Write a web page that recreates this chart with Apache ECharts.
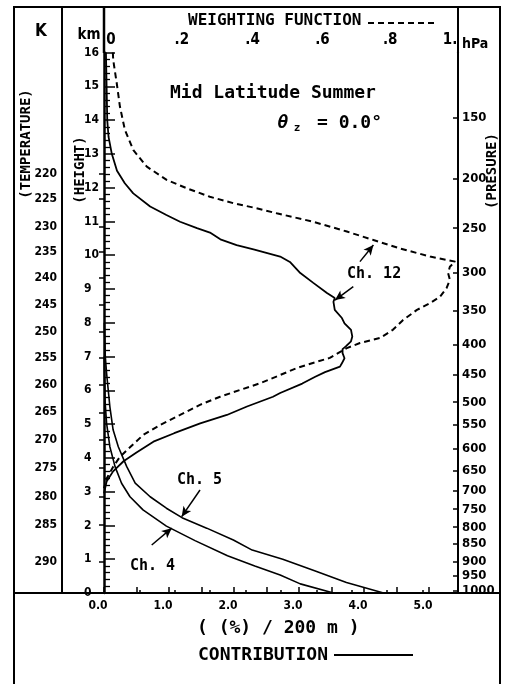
<!DOCTYPE html>
<html><head><meta charset="utf-8">
<script src="https://cdn.jsdelivr.net/npm/echarts@6/dist/echarts.min.js"></script>
<style>html,body{margin:0;padding:0;background:#fff}#c{width:507px;height:684px}</style>
</head><body><div id="c"></div>
<script>
// ---- data (height in km, value) ----
var ch12ContribKm = [16.0,15.0,14.0,13.5,13.0,12.5,12.13,11.83,11.44,11.19,10.99,10.80,10.67,10.47,10.30,10.17,9.96,9.80,9.47,9.18,8.88,8.73,8.62,8.38,8.14,7.98,7.79,7.59,7.45,7.30,7.22,7.10,6.95,6.80,6.70,6.54,6.40,6.20,5.92,5.81,5.52,5.27,5.02,4.73,4.48,4.16,3.90,3.60,3.30,2.95];
var ch12Contrib   = [0.03,0.04,0.05,0.07,0.12,0.20,0.32,0.45,0.71,0.96,1.17,1.43,1.63,1.79,2.04,2.30,2.71,2.86,3.02,3.22,3.43,3.55,3.53,3.55,3.66,3.70,3.80,3.82,3.80,3.72,3.67,3.67,3.70,3.66,3.63,3.40,3.25,3.05,2.71,2.60,2.20,1.89,1.48,1.08,0.76,0.50,0.30,0.14,0.04,0.0];

var ch12WeightKm = [16.0,15.78,15.09,14.40,13.71,13.11,12.62,12.23,11.98,11.73,11.54,11.39,11.24,10.99,10.70,10.45,10.20,9.96,9.81,9.66,9.47,9.27,9.03,8.77,8.58,8.38,8.08,7.79,7.55,7.40,7.25,6.96,6.81,6.66,6.45,6.21,6.01,5.81,5.57,5.27,4.97,4.68,4.33,4.03,3.74,3.40,3.10];
var ch12Weight   = [0.025,0.026,0.036,0.045,0.059,0.083,0.121,0.177,0.234,0.299,0.365,0.431,0.488,0.591,0.686,0.761,0.836,0.921,0.992,0.977,0.972,0.977,0.968,0.949,0.921,0.884,0.845,0.816,0.780,0.723,0.686,0.638,0.590,0.545,0.497,0.441,0.384,0.328,0.271,0.215,0.158,0.111,0.075,0.045,0.026,0.008,0.0];

var ch5Km = [8.0,7.0,6.50,5.52,4.83,4.33,3.74,3.25,2.85,2.51,2.23,1.92,1.57,1.27,1.00,0.66,0.31,0.0];
var ch5   = [0.005,0.02,0.04,0.09,0.14,0.22,0.35,0.48,0.71,0.96,1.20,1.58,1.99,2.28,2.75,3.24,3.73,4.30];

var ch4Km = [7.0,6.5,5.71,5.02,4.33,3.74,3.25,2.85,2.46,1.98,1.55,1.10,0.80,0.53,0.27,0.0];
var ch4   = [0.003,0.007,0.015,0.04,0.09,0.17,0.27,0.40,0.60,0.96,1.40,1.90,2.32,2.71,3.02,3.53];

// auxiliary scales: temperature (K) and pressure (hPa) at heights (km)
var tempLabels = [220,225,230,235,240,245,250,255,260,265,270,275,280,285,290];
var tempKm     = [12.42,11.68,10.83,10.09,9.32,8.52,7.72,6.95,6.15,5.35,4.53,3.70,2.84,2.01,0.92];
var presLabels = [150,200,250,300,350,400,450,500,550,600,650,700,750,800,850,900,950,1000];
var presKm     = [14.08,12.27,10.80,9.49,8.37,7.34,6.45,5.65,4.97,4.26,3.61,3.02,2.48,1.95,1.45,0.92,0.50,0.06];

function pairs(xs, ks){ return xs.map(function(v,i){ return [v, ks[i]]; }); }
function lookup(keys, labels){ return function(v){ for (var i=0;i<keys.length;i++){ if (Math.abs(keys[i]-v)<1e-6) return String(labels[i]); } return ''; }; }

var MONO = '"DejaVu Sans Mono"';
var COND = '"DejaVu Sans Condensed"';
var black = '#000';

function txt(x, y, text, font, align, rot){
  return {type:'text', x:x, y:y, rotation: rot||0, silent:true,
    style:{text:text, font:font, fill:black, align:align||'left', verticalAlign:'middle', textAlign:align||'left', textVerticalAlign:'middle'}};
}
function ln(x1,y1,x2,y2,w,dash){
  return {type:'line', silent:true, shape:{x1:x1,y1:y1,x2:x2,y2:y2}, style:{stroke:black, lineWidth:w||2, lineDash: dash||null}};
}
function rs(size, pad){ return {fontFamily:COND, fontWeight:'bold', fontSize:size, color:black, padding:pad}; }

var chart = echarts.init(document.getElementById('c'), null, {renderer:'canvas'});
var arrowLine = {symbol:['none','arrow'], symbolSize:[7,10], silent:true, label:{show:false},
  lineStyle:{color:black, type:'solid', width:1.5}, emphasis:{disabled:true}};

chart.setOption({
  animation:false,
  backgroundColor:'#fff',
  grid:{left:104, right:49, top:52.5, bottom:91, containLabel:false},
  xAxis:[
    {type:'value', position:'bottom', min:0, max:5.446, interval:0.5,
     axisLine:{show:true, lineStyle:{color:black, width:2}},
     axisTick:{show:true, inside:true, length:6, lineStyle:{color:black, width:1.5}},
     splitLine:{show:false},
     axisLabel:{margin:7, color:black, fontFamily:COND, fontWeight:'bold', fontSize:12, showMaxLabel:false,
       rich:{a:rs(12,[0,12,0,0])},
       formatter:function(v){ return (Math.abs(v-Math.round(v))<1e-6) ? '{a|'+Math.round(v).toFixed(1)+'}' : ''; }}},
    {type:'value', position:'top', min:0, max:1, interval:0.1,
     axisLine:{show:true, lineStyle:{color:black, width:2}},
     axisTick:{show:true, inside:false, length:3, lineStyle:{color:black, width:1.5}},
     splitLine:{show:false},
     axisLabel:{margin:5, color:black, fontFamily:COND, fontWeight:'bold', fontSize:15,
       rich:{p14:rs(15,[0,0,0,14]), p12:rs(15,[0,0,0,12]), p6:rs(15,[0,0,0,6]), r16:rs(15,[0,16,0,0])},
       formatter:function(v){ var r=Math.round(v*10); if (r%2) return '';
         if (r===0) return '{p14|0}'; if (r===10) return '{r16|1.}';
         if (r<=4) return '{p14|.'+r+'}'; if (r===6) return '{p12|.6}'; return '{p6|.'+r+'}'; }}}
  ],
  yAxis:[
    {type:'value', position:'left', min:0, max:16, interval:1,
     axisLine:{show:true, lineStyle:{color:black, width:2.5}},
     axisTick:{show:true, inside:true, length:11, lineStyle:{color:black, width:1.5}},
     minorTick:{show:true, splitNumber:5, length:6, lineStyle:{color:black, width:1.3}},
     splitLine:{show:false}, minorSplitLine:{show:false},
     axisLabel:{align:'left', margin:20, color:black, fontFamily:COND, fontWeight:'bold', fontSize:12}},
    {type:'value', position:'left', offset:42, min:0, max:16,
     axisLine:{show:false},
     axisTick:{show:true, inside:false, length:5, customValues:tempKm, lineStyle:{color:black, width:1.5}},
     splitLine:{show:false},
     axisLabel:{margin:5, customValues:tempKm, color:black, fontFamily:COND, fontWeight:'bold', fontSize:12,
       formatter:lookup(tempKm, tempLabels)}},
    {type:'value', position:'right', min:0, max:16,
     axisLine:{show:true, lineStyle:{color:black, width:2}},
     axisTick:{show:true, inside:true, length:5, customValues:presKm, lineStyle:{color:black, width:1.5}},
     splitLine:{show:false},
     axisLabel:{margin:4, customValues:presKm, color:black, fontFamily:COND, fontWeight:'bold', fontSize:13,
       formatter:lookup(presKm, presLabels)}}
  ],
  series:[
    {name:'Ch.12 contribution', type:'line', xAxisIndex:0, yAxisIndex:0, data:pairs(ch12Contrib, ch12ContribKm),
     showSymbol:false, lineStyle:{color:black, width:1.8}, silent:true,
     markLine:Object.assign({data:[[{coord:[3.835,9.07]},{coord:[3.554,8.67]}]]}, arrowLine)},
    {name:'Ch.12 weighting', type:'line', xAxisIndex:1, yAxisIndex:0, data:pairs(ch12Weight, ch12WeightKm),
     showSymbol:false, lineStyle:{color:black, width:2, type:[6,4]}, silent:true,
     markLine:Object.assign({data:[[{coord:[0.723,9.81]},{coord:[0.761,10.30]}]]}, arrowLine)},
    {name:'Ch.5', type:'line', xAxisIndex:0, yAxisIndex:0, data:pairs(ch5, ch5Km),
     showSymbol:false, lineStyle:{color:black, width:1.6}, silent:true,
     markLine:Object.assign({data:[[{coord:[1.477,3.05]},{coord:[1.195,2.26]}]]}, arrowLine)},
    {name:'Ch.4', type:'line', xAxisIndex:0, yAxisIndex:0, data:pairs(ch4, ch4Km),
     showSymbol:false, lineStyle:{color:black, width:1.6}, silent:true,
     markLine:Object.assign({data:[[{coord:[0.734,1.42]},{coord:[1.042,1.92]}]]}, arrowLine)}
  ],
  graphic:[
    ln(14,7,500,7,2), ln(14,6,14,684,2), ln(500,6,500,684,2),
    ln(62,7,62,593,2), ln(104,7,104,53,2.5), ln(458,7,458,53,2),
    ln(14,593,500,593,2),
    txt(41,32,'K','bold 17px '+COND,'center'),
    txt(89,35,'km','bold 15px '+COND,'center'),
    txt(188,21,'WEIGHTING FUNCTION','bold 16px '+MONO,'left'),
    ln(368,23,438,23,2,[6,4]),
    txt(462,44,'hPa','bold 14px '+COND,'left'),
    txt(26,144,'(TEMPERATURE)','bold 14px '+MONO,'center',Math.PI/2),
    txt(80,170,'(HEIGHT)','bold 14px '+MONO,'center',Math.PI/2),
    txt(492,171,'(PRESURE)','bold 14px '+MONO,'center',Math.PI/2),
    txt(170,93,'Mid Latitude Summer','bold 18px '+MONO,'left'),
    txt(283,123,'θ','italic bold 18px '+MONO,'center'),
    txt(297,128,'z','bold 11px '+MONO,'center'),
    txt(382,123,'= 0.0°','bold 18px '+MONO,'right'),
    txt(347,274,'Ch. 12','bold 15px '+MONO,'left'),
    txt(177,480,'Ch. 5','bold 15px '+MONO,'left'),
    txt(130,566,'Ch. 4','bold 15px '+MONO,'left'),
    txt(197,628,'( (%) / 200 m )','bold 18px '+MONO,'left'),
    txt(198,655,'CONTRIBUTION','bold 18px '+MONO,'left'),
    ln(334,655,413,655,2)
  ]
});
</script></body></html>
